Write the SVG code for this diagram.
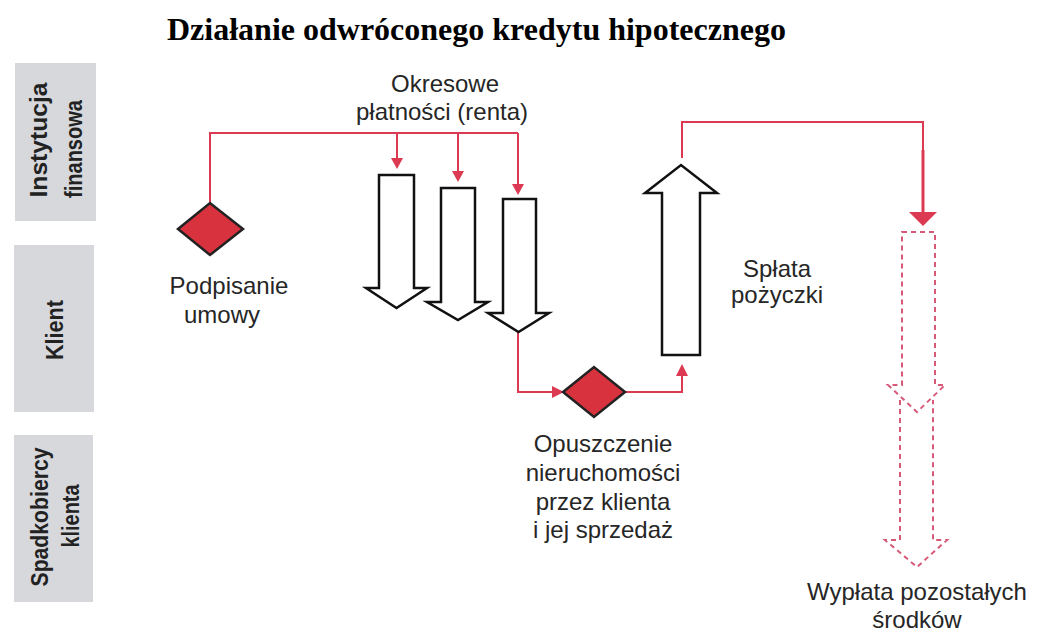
<svg xmlns="http://www.w3.org/2000/svg" width="1038" height="635" viewBox="0 0 1038 635">
<defs>
<style>
.lane{fill:#d6d8dc;}
.lt{font-family:"Liberation Sans",Arial,sans-serif;font-weight:bold;font-size:24px;fill:#222;text-anchor:middle;}
.lbl{font-family:"Liberation Sans",Arial,sans-serif;font-size:24px;fill:#262626;text-anchor:middle;}
.title{font-family:"Liberation Serif","Times New Roman",serif;font-weight:bold;font-size:32px;fill:#000;}
.blk{fill:#fff;stroke:#111;stroke-width:2.5;stroke-linejoin:miter;}
.dash{fill:none;stroke:#d65a78;stroke-width:2;stroke-dasharray:5 4;}
.dia{fill:#d8323f;stroke:#222;stroke-width:2.5;}
.con{fill:none;stroke:#dc3a52;stroke-width:2;}
.ah{fill:#dc3a52;}
</style>
</defs>
<rect width="1038" height="635" fill="#fff"/>
<text class="title" x="167" y="40">Działanie odwróconego kredytu hipotecznego</text>

<g id="lane-instytucja">
<rect class="lane" x="15" y="63" width="81" height="158"/>
<text class="lt" transform="translate(47,140) rotate(-90)" textLength="115" lengthAdjust="spacingAndGlyphs">Instytucja</text>
<text class="lt" transform="translate(82,149) rotate(-90)" textLength="98" lengthAdjust="spacingAndGlyphs">finansowa</text>
</g>
<g id="lane-klient">
<rect class="lane" x="14" y="245" width="80" height="167"/>
<text class="lt" transform="translate(63,330) rotate(-90)" textLength="60" lengthAdjust="spacingAndGlyphs">Klient</text>
</g>
<g id="lane-spadkobiercy">
<rect class="lane" x="14" y="435" width="79" height="167"/>
<text class="lt" transform="translate(48,517) rotate(-90)" textLength="139" lengthAdjust="spacingAndGlyphs">Spadkobiercy</text>
<text class="lt" transform="translate(79,516) rotate(-90)" textLength="63" lengthAdjust="spacingAndGlyphs">klienta</text>
</g>

<g id="connectors">
<path class="con" d="M210,203 V133 H518 M397,133 V160 M458,133 V173 M518,133 V186"/>
<polygon class="ah" points="391,158 403,158 397,169"/>
<polygon class="ah" points="452,171 464,171 458,182"/>
<polygon class="ah" points="512,184 524,184 518,195"/>
<path class="con" d="M518,332 V392 H553"/>
<polygon class="ah" points="552,386 552,398 564,392"/>
<path class="con" d="M625,392 H682 V374"/>
<polygon class="ah" points="676,376 688,376 682,364"/>
<path class="con" d="M682,158 V122 H923 V214"/>
<path class="con" d="M923,150 V214" style="stroke-width:3"/>
<polygon class="ah" points="909,212 937,212 923,226"/>
</g>

<g id="node-podpisanie">
<polygon class="dia" points="178,229 210,203 243,229 210,255"/>
<text class="lbl" x="229" y="294">Podpisanie</text>
<text class="lbl" x="222" y="323">umowy</text>
</g>

<g id="node-okresowe">
<text class="lbl" x="445" y="92">Okresowe</text>
<text class="lbl" x="442" y="120">płatności (renta)</text>
<polygon class="blk" points="379,175 414,175 414,288 427,288 396.5,308 366,288 379,288"/>
<polygon class="blk" points="441,188 475,188 475,302 488,302 458,320 427,302 441,302"/>
<polygon class="blk" points="503,199 536,199 536,313 549,313 518.5,332 488,313 503,313"/>
</g>

<g id="node-opuszczenie">
<polygon class="dia" points="563,392 594,367 625,392 594,417"/>
<text class="lbl" x="603" y="452">Opuszczenie</text>
<text class="lbl" x="603" y="481">nieruchomości</text>
<text class="lbl" x="603" y="510">przez klienta</text>
<text class="lbl" x="603" y="538">i jej sprzedaż</text>
</g>

<g id="node-splata">
<polygon class="blk" points="662,355 700,355 700,193 717,193 681,165 645,193 662,193"/>
<text class="lbl" x="777" y="277">Spłata</text>
<text class="lbl" x="777" y="303">pożyczki</text>
</g>

<g id="node-wyplata">
<polygon class="dash" points="902,232 935,232 935,385 945,385 917,412 888,385 902,385"/>
<path class="dash" d="M900,400 V540 H885 L917,567 L947,540 H933 V400"/>
<text class="lbl" x="917" y="600">Wypłata pozostałych</text>
<text class="lbl" x="917" y="628">środków</text>
</g>
</svg>
